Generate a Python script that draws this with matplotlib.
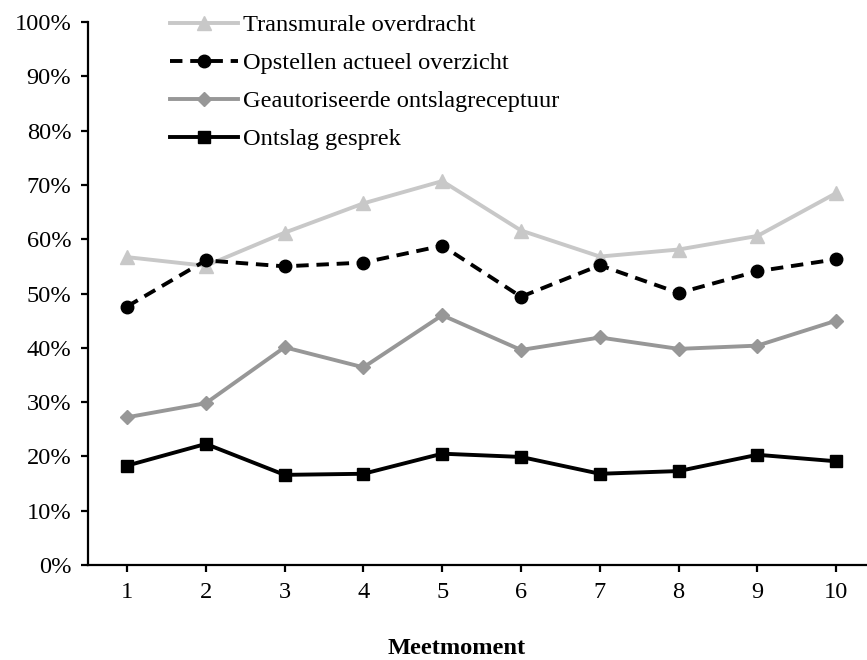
import matplotlib

matplotlib.use("Agg")
import matplotlib.pyplot as plt  # noqa: E402
from matplotlib.ticker import PercentFormatter  # noqa: E402

# Meetmomenten and percentages per indicator
meetmoment = [1, 2, 3, 4, 5, 6, 7, 8, 9, 10]
transmurale_overdracht = [56.7, 55.1, 61.2, 66.6, 70.7, 61.6, 56.8, 58.1, 60.6, 68.5]
opstellen_overzicht = [47.6, 56.1, 55.0, 55.7, 58.8, 49.4, 55.2, 50.1, 54.1, 56.3]
ontslagreceptuur = [27.2, 29.8, 40.1, 36.4, 46.0, 39.6, 41.9, 39.8, 40.4, 45.0]
ontslag_gesprek = [18.3, 22.3, 16.6, 16.8, 20.5, 19.9, 16.8, 17.3, 20.3, 19.1]

plt.rcParams["font.family"] = ["Liberation Serif", "DejaVu Serif"]
plt.rcParams["font.size"] = 17.6

fig = plt.figure(figsize=(8.67, 6.60), dpi=100)
ax = fig.add_axes([88 / 867, 1 - 565 / 660, 1 - 88 / 867, (565 - 22) / 660])

ax.plot(meetmoment, [v / 100 for v in transmurale_overdracht], color="#c8c8c8",
        lw=2.8, marker="^", ms=10, label="Transmurale overdracht")
ax.plot(meetmoment, [v / 100 for v in opstellen_overzicht], color="black",
        lw=2.8, ls=(0, (3.2, 2.0)), marker="o", ms=9,
        label="Opstellen actueel overzicht")
ax.plot(meetmoment, [v / 100 for v in ontslagreceptuur], color="#979797",
        lw=2.8, marker="D", ms=7, label="Geautoriseerde ontslagreceptuur")
ax.plot(meetmoment, [v / 100 for v in ontslag_gesprek], color="black",
        lw=2.8, marker="s", ms=9, label="Ontslag gesprek")

ax.set_xlim(0.505, 10.39)
ax.set_ylim(0, 1)
ax.set_xticks(meetmoment)
ax.set_yticks([i / 10 for i in range(11)])
ax.yaxis.set_major_formatter(PercentFormatter(1.0, decimals=0))

for side in ("top", "right"):
    ax.spines[side].set_visible(False)
for side in ("left", "bottom"):
    ax.spines[side].set_linewidth(1.6)
ax.tick_params(axis="both", direction="out", length=5, width=1.6, pad=7)

fig.text(457 / 867, 1 - 648 / 660, "Meetmoment", ha="center", va="center",
         fontweight="bold")

ax.legend(loc="upper left", bbox_to_anchor=(170 / 867, 1 - 14 / 660),
          bbox_transform=fig.transFigure, frameon=False, borderpad=0,
          borderaxespad=0, handlelength=2.8, handletextpad=0.2,
          labelspacing=0.65)

fig.savefig("out.png", dpi=100)
